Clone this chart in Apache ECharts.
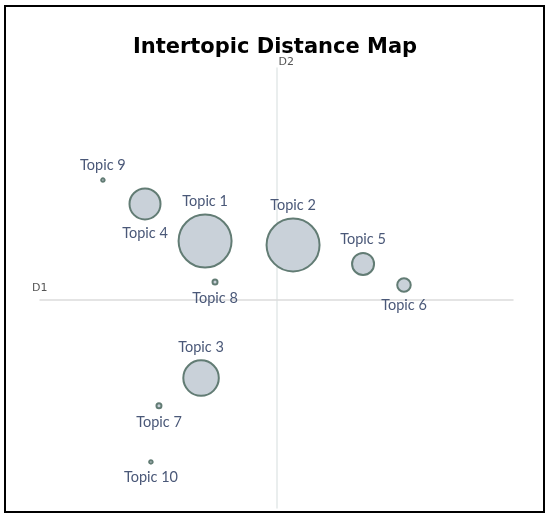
<!DOCTYPE html>
<html lang="en">
<head>
    <meta charset="UTF-8">
    <script src="https://cdn.jsdelivr.net/npm/echarts@6/dist/echarts.min.js"></script>
    <title>Intertopic Distance Map</title>
</head>
<body style="margin:0">
    <div id="main" style="width:550px;height:519px;background:#fff"></div>
    <script>
var topics = ['Topic 1', 'Topic 2', 'Topic 3', 'Topic 4', 'Topic 5', 'Topic 6', 'Topic 7', 'Topic 8', 'Topic 9', 'Topic 10'];
var d1 = [-0.302, 0.070, -0.319, -0.556, 0.366, 0.539, -0.497, -0.260, -0.734, -0.531];
var d2 = [0.253, 0.236, -0.339, 0.413, 0.154, 0.063, -0.459, 0.076, 0.516, -0.701];
var sizes = [53, 53, 35.5, 31, 22, 13.5, 5, 5, 3.5, 3.5];
var labelPos = ['top', 'top', 'top', 'bottom', 'top', 'bottom', 'bottom', 'bottom', 'top', 'bottom'];

var myChart = echarts.init(document.getElementById('main'));

var points = [];
for (var i = 0; i < topics.length; i++) {
  points.push({
    name: topics[i],
    value: [d1[i], d2[i]],
    symbolSize: sizes[i],
    label: { position: labelPos[i] }
  });
}

var option = {
  backgroundColor: '#fff',
  animation: false,
  title: {
    text: 'Intertopic Distance Map',
    left: 'center',
    top: 32,
    textStyle: { fontFamily: 'DejaVu Sans', fontWeight: 'bold', fontSize: 21, color: '#000' }
  },
  grid: { left: 40, right: 37, top: 68, bottom: 11 },
  xAxis: {
    type: 'value', min: -1, max: 1,
    name: 'D1', nameLocation: 'start', nameGap: 8,
    nameTextStyle: { fontFamily: 'DejaVu Sans', fontSize: 11, color: '#555', align: 'left', verticalAlign: 'bottom', padding: [0, 0, 6, 0] },
    axisLine: { onZero: true, lineStyle: { color: '#dcdcdc', width: 1.5 } },
    axisTick: { show: false }, axisLabel: { show: false }, splitLine: { show: false }
  },
  yAxis: {
    type: 'value', min: -0.9, max: 1,
    name: 'D2', nameGap: 0,
    nameTextStyle: { fontFamily: 'DejaVu Sans', fontSize: 11, color: '#555', align: 'left', verticalAlign: 'bottom', padding: [0, 0, 0, 2] },
    axisLine: { onZero: true, lineStyle: { color: '#e3e8e8', width: 1.5 } },
    axisTick: { show: false }, axisLabel: { show: false }, splitLine: { show: false }
  },
  graphic: [{
    type: 'rect',
    shape: { x: 5, y: 6, width: 539, height: 506 },
    style: { fill: null, stroke: '#000', lineWidth: 2 },
    silent: true
  }],
  series: [{
    type: 'scatter',
    data: points,
    itemStyle: { color: '#c9d1d9', borderColor: '#627c74', borderWidth: 2, opacity: 1 },
    label: {
      show: true,
      formatter: '{b}',
      distance: 5,
      fontFamily: 'Lato',
      fontSize: 14.5,
      color: '#4a5878'
    }
  }]
};
myChart.setOption(option);
    </script>
</body>
</html>
